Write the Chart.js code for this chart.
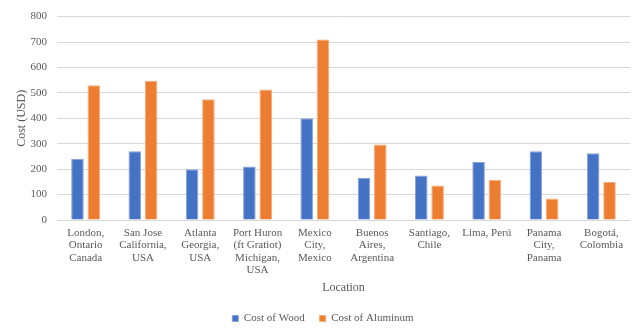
<!DOCTYPE html>
<html>
<head>
<meta charset="utf-8">
<script src="https://cdn.jsdelivr.net/npm/chart.js@4"></script>
<style>
  html, body { margin: 0; padding: 0; background: #fff; }
  #wrap { width: 640px; height: 330px; }
</style>
</head>
<body>
<div id="wrap"><canvas id="myChart" width="640" height="330"></canvas></div>
<script>
var locations = [
    ["London,", "Ontario", "Canada"],
    ["San Jose", "California,", "USA"],
    ["Atlanta", "Georgia,", "USA"],
    ["Port Huron", "(ft Gratiot)", "Michigan,", "USA"],
    ["Mexico", "City,", "Mexico"],
    ["Buenos", "Aires,", "Argentina"],
    ["Santiago,", "Chile"],
    ["Lima, Perú"],
    ["Panama", "City,", "Panama"],
    ["Bogotá,", "Colombia"]
]
var woodCost = [240, 270, 200, 210, 400, 165, 175, 228, 270, 263]
var aluminumCost = [530, 548, 475, 513, 710, 297, 136, 158, 85, 150]
var yTicks = [0, 100, 200, 300, 400, 500, 600, 700, 800]

var grey = '#595959'
var serif = "'Liberation Serif', 'Times New Roman', serif"

function setChart() {
    Chart.defaults.font.family = serif
    Chart.defaults.color = grey
    const ctx = document.getElementById('myChart')
    new Chart(ctx, {
        type: 'bar',
        data: {
            labels: locations,
            datasets: [{
                label: 'Cost of Wood',
                data: woodCost,
                backgroundColor: '#4472C4',
                borderColor: '#86a3da',
                borderWidth: 1
            }, {
                label: 'Cost of Aluminum',
                data: aluminumCost,
                backgroundColor: '#ED7D31',
                borderColor: '#f5ab7b',
                borderWidth: 1
            }]
        },
        options: {
            responsive: false,
            animation: false,
            categoryPercentage: 0.57,
            barPercentage: 0.77,
            layout: {
                padding: { left: 16, right: 10, top: 4, bottom: -4 }
            },
            plugins: {
                tooltip: { enabled: false },
                legend: {
                    position: 'bottom',
                    labels: {
                        boxWidth: 6,
                        boxHeight: 6,
                        padding: 15,
                        color: grey,
                        font: { size: 11 }
                    }
                }
            },
            scales: {
                x: {
                    grid: { display: false, drawTicks: false },
                    border: { display: false },
                    afterFit: function(scale) {
                        scale.height = 78
                    },
                    ticks: {
                        autoSkip: false,
                        maxRotation: 0,
                        padding: 7,
                        color: grey,
                        font: { size: 11, lineHeight: 1.12 }
                    },
                    title: {
                        display: true,
                        text: 'Location',
                        color: grey,
                        font: { size: 12 },
                        padding: { top: 4, bottom: 3 }
                    }
                },
                y: {
                    min: 0,
                    max: yTicks[yTicks.length - 1],
                    afterBuildTicks: function(scale) {
                        scale.ticks = yTicks.map(function(v) { return { value: v } })
                    },
                    afterFit: function(scale) {
                        scale.width = 41
                    },
                    grid: { color: '#d9d9d9', lineWidth: 1, drawTicks: false },
                    border: { display: false },
                    ticks: {
                        padding: 10,
                        color: grey,
                        font: { size: 11 }
                    },
                    title: {
                        display: true,
                        text: 'Cost (USD)',
                        color: grey,
                        font: { size: 12 },
                        padding: { top: -1, bottom: 0 }
                    }
                }
            }
        }
    })
}

setChart()
</script>
</body>
</html>
